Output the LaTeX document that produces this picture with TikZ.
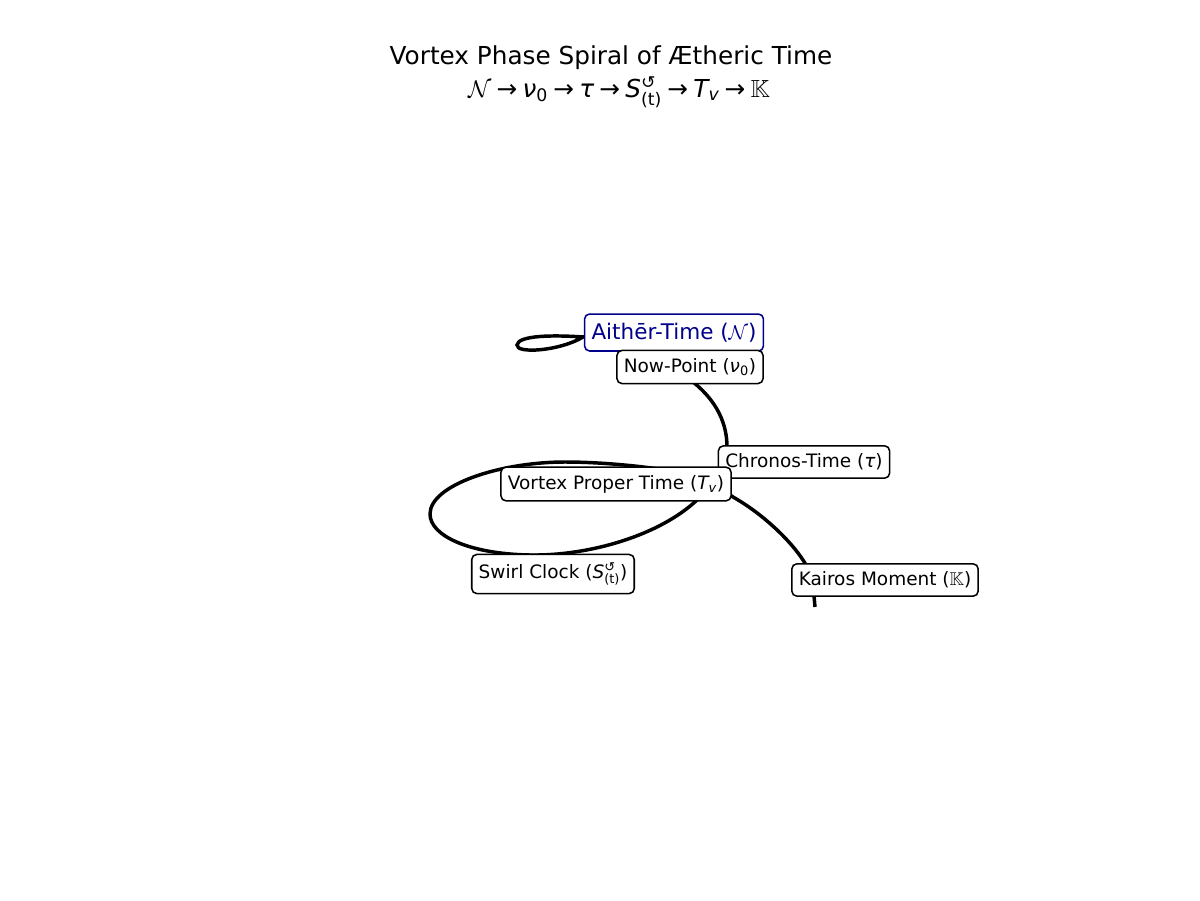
\documentclass[tikz,border=0pt]{standalone}
\usepackage{amsmath}
\usepackage{amssymb}
\usepackage{fontspec}
\setmainfont{DejaVu Sans}
\definecolor{aitherblue}{RGB}{0,0,139}
\newcommand{\swirlS}{{\itshape S}$^{\text{↺}}_{\text{(t)}}$}
\newcommand{\arr}{\hspace{3.8pt}→\hspace{3.8pt}}

\begin{document}
\begin{tikzpicture}[x=0.72pt,y=0.72pt,yscale=-1,xscale=1,
  tagbox/.style={draw, fill=white, rounded corners=3.6pt, line width=1.1pt,
    inner xsep=5pt, inner ysep=5.7pt, font=\fontsize{13.3}{15}\selectfont},
  spiral/.style={line width=2.5pt, line cap=butt}]
\useasboundingbox (0,0) rectangle (1200,900);

% Title
\node[anchor=base] (title) at (611,64) {\fontsize{17.8}{21}\selectfont Vortex Phase Spiral of Ætheric Time};
\node[anchor=base] (chain) at (619,97) {\fontsize{17.8}{21}\selectfont $\mathcal{N}$\arr{\itshape ν}\textsubscript{0}\arr{\itshape τ}\arr\swirlS\arr{\itshape T}\textsubscript{\itshape v}\arr$\mathbb{K}$};

%Spiral curve, drawn beneath the labels
\draw[spiral] (660,340) .. controls (630,334) and (600,334) .. (583,337)
  .. controls (555,335) and (518,335) .. (517,345)
  .. controls (516,354) and (560,351) .. (583,337)
  .. controls (610,328) and (660,345) .. (693,382)
  .. controls (718,402) and (727,425) .. (727,447)
  .. controls (727,470) and (715,485) .. (697,500)
  .. controls (660,535) and (590,556) .. (530,555)
  .. controls (470,554) and (430,536) .. (430,514)
  .. controls (430,485) and (500,462) .. (565,462)
  .. controls (600,462) and (640,466) .. (665,470)
  .. controls (700,478) and (720,488) .. (733,497)
  .. controls (765,515) and (795,545) .. (806,565)
  .. controls (812,575) and (814,590) .. (814,596)
  -- (815,607);

% Text Nodes
\node[tagbox, draw=aitherblue, text=aitherblue, inner ysep=6.4pt, font=\fontsize{15.5}{18}\selectfont] (aither) at (674,332.5) {Aithēr-Time ($\mathcal{N}$)};
\node[tagbox] (nowpoint) at (690,367) {Now-Point ({\itshape ν}\textsubscript{0})};
\node[tagbox] (chronos) at (804,462) {Chronos-Time ({\itshape τ})};
\node[tagbox] (vortex) at (616,484) {Vortex Proper Time ({\itshape T}\textsubscript{\itshape v})};
\node[tagbox] (swirl) at (553,574) {Swirl Clock (\swirlS)};
\node[tagbox] (kairos) at (885,580) {Kairos Moment ($\mathbb{K}$)};

\end{tikzpicture}
\end{document}
